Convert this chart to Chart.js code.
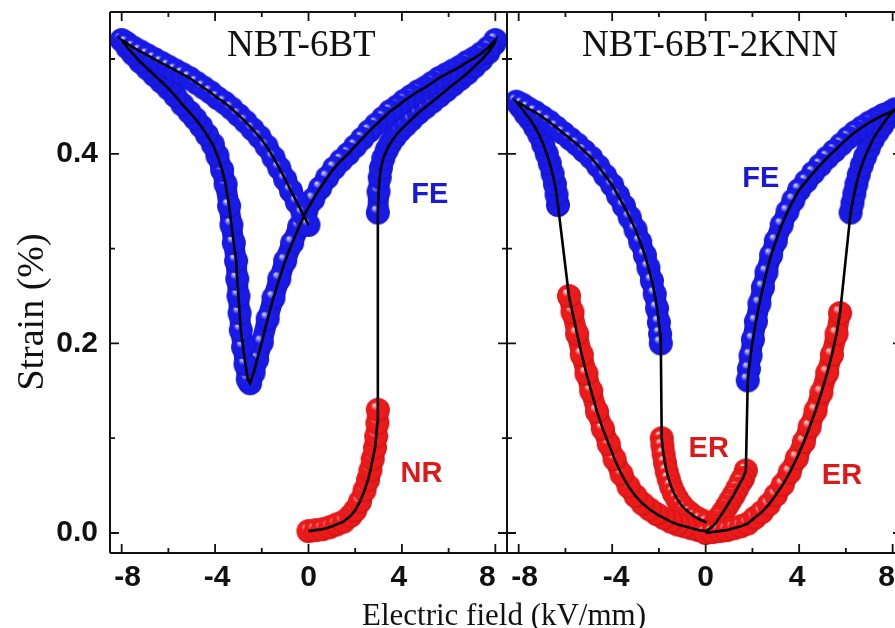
<!DOCTYPE html>
<html lang="en">
<head>
<meta charset="UTF-8">
<title>Strain vs electric field</title>
<script src="https://cdn.jsdelivr.net/npm/chart.js"></script>
<style>
    html, body { margin: 0; padding: 0; background: #fff; overflow: hidden; }
    #wrap { position: relative; width: 895px; height: 628px; overflow: hidden; background: #fff; }
    #left { position: absolute; left: 0; top: 0; }
    #right { position: absolute; left: 497px; top: 0; }
    #xtitle {
        position: absolute; left: 0; top: 599px; width: 1008px;
        text-align: center; color: #111;
        font: 31px "Liberation Serif", "Times New Roman", serif; line-height: 31px;
    }
</style>
</head>
<body>
<div id="wrap">
    <canvas id="left" width="509" height="628"></canvas>
    <canvas id="right" width="420" height="628"></canvas>
    <div id="xtitle">Electric field (kV/mm)</div>
</div>

<script>
// tick positions
const xMajor = [-8, -4, 0, 4, 8];
const xMinor = [-6, -2, 2, 6];
const yMajor = [0, 0.2, 0.4];
const yMinor = [0.1, 0.3, 0.5];

// NBT-6BT: first loading (non-ergodic relaxor) ...
const btNrE = [0.0, 0.3, 0.6, 0.9, 1.2, 1.5, 1.8, 2.0, 2.2, 2.4, 2.55, 2.65, 2.75, 2.85, 2.9, 2.95, 2.97];
const btNrS = [0.002, 0.003, 0.004, 0.006, 0.009, 0.012, 0.018, 0.024, 0.033, 0.045, 0.056, 0.066, 0.078, 0.090, 0.102, 0.116, 0.130];
// ... then the ferroelectric loop: up to +8, down through the minimum at -2.5, out to -8 and back to 0
const btFeE = [2.97, 3.0, 3.05, 3.1, 3.2, 3.35, 3.5, 3.7, 3.9, 4.15, 4.4, 4.7, 5.0, 5.3, 5.6, 5.9, 6.2, 6.5, 6.8, 7.1, 7.4, 7.7, 7.95,
    8.0, 7.7, 7.4, 7.1, 6.8, 6.5, 6.2, 5.9, 5.6, 5.3, 5.0, 4.7, 4.4, 4.1, 3.8, 3.5, 3.2, 2.9, 2.6, 2.3, 2.0, 1.7, 1.4, 1.1, 0.8, 0.5, 0.2,
    -0.1, -0.4, -0.7, -1.0, -1.25, -1.5, -1.75, -2.0, -2.2, -2.35, -2.5,
    -2.6, -2.7, -2.8, -2.9, -2.95, -3.0, -3.05, -3.1, -3.2, -3.3, -3.4, -3.55, -3.7, -3.9,
    -4.1, -4.35, -4.6, -4.85, -5.1, -5.4, -5.7, -6.0, -6.3, -6.6, -6.9, -7.2, -7.5, -7.75, -8.0,
    -7.8, -7.5, -7.2, -6.9, -6.6, -6.3, -6.0, -5.7, -5.4, -5.1, -4.8, -4.5, -4.2, -3.9, -3.6, -3.3, -3.0, -2.7, -2.4, -2.1,
    -1.8, -1.5, -1.25, -1.0, -0.75, -0.5, -0.25, 0.0];
const btFeS = [0.338, 0.36, 0.375, 0.385, 0.395, 0.404, 0.411, 0.418, 0.424, 0.430, 0.436, 0.443, 0.449, 0.455, 0.461, 0.467, 0.473, 0.479, 0.485, 0.492, 0.499, 0.507, 0.516,
    0.52, 0.512, 0.506, 0.501, 0.497, 0.492, 0.488, 0.484, 0.480, 0.475, 0.470, 0.466, 0.461, 0.456, 0.450, 0.445, 0.438, 0.431, 0.424, 0.416, 0.408, 0.400, 0.393, 0.385, 0.375, 0.364, 0.352,
    0.339, 0.323, 0.306, 0.287, 0.268, 0.248, 0.226, 0.201, 0.183, 0.169, 0.158,
    0.162, 0.178, 0.196, 0.214, 0.232, 0.250, 0.268, 0.287, 0.306, 0.325, 0.345, 0.368, 0.383, 0.398,
    0.410, 0.420, 0.429, 0.437, 0.444, 0.452, 0.461, 0.469, 0.476, 0.483, 0.490, 0.497, 0.505, 0.512, 0.52,
    0.517, 0.512, 0.508, 0.504, 0.500, 0.496, 0.492, 0.488, 0.484, 0.480, 0.475, 0.470, 0.465, 0.459, 0.454, 0.448, 0.441, 0.434, 0.426, 0.418,
    0.408, 0.396, 0.385, 0.373, 0.361, 0.349, 0.337, 0.325];

// NBT-6BT-2KNN: ergodic branch on rising field
const knnEr1E = [0.0, 0.3, 0.6, 0.9, 1.2, 1.5, 1.8, 2.1, 2.4, 2.7, 3.0, 3.3, 3.6, 3.9, 4.2, 4.45, 4.7, 4.95, 5.2, 5.4, 5.6, 5.75];
const knnEr1S = [0.000, 0.001, 0.002, 0.003, 0.005, 0.007, 0.010, 0.016, 0.022, 0.030, 0.040, 0.051, 0.064, 0.079, 0.096, 0.112, 0.129, 0.148, 0.169, 0.188, 0.210, 0.232];
// induced FE state, up to +8 and back down
const knnFe1E = [6.2, 6.28, 6.36, 6.45, 6.55, 6.68, 6.82, 6.98, 7.15, 7.35, 7.55, 7.75, 7.95, 8.1,
    7.9, 7.6, 7.3, 7.0, 6.7, 6.4, 6.1, 5.8, 5.5, 5.2, 4.9, 4.6, 4.3, 4.0, 3.75, 3.5, 3.25, 3.0, 2.8, 2.6,
    2.45, 2.3, 2.15, 2.02, 1.92, 1.85, 1.8];
const knnFe1S = [0.338, 0.348, 0.358, 0.368, 0.378, 0.388, 0.397, 0.406, 0.415, 0.423, 0.430, 0.437, 0.443, 0.447,
    0.444, 0.441, 0.437, 0.433, 0.428, 0.423, 0.417, 0.410, 0.403, 0.396, 0.388, 0.380, 0.371, 0.362, 0.351, 0.339, 0.325, 0.308, 0.293, 0.275,
    0.259, 0.242, 0.223, 0.204, 0.187, 0.173, 0.161];
// back to ER, through zero and out along the negative side
const knnEr2E = [1.72, 1.6, 1.5, 1.35, 1.2, 1.05, 0.9, 0.75, 0.6, 0.45, 0.3, 0.15,
    0.0, -0.3, -0.6, -0.9, -1.2, -1.5, -1.8, -2.1, -2.4, -2.7, -3.0, -3.3, -3.6, -3.9, -4.15, -4.4, -4.65, -4.9, -5.1, -5.3, -5.5, -5.7, -5.85];
const knnEr2S = [0.066, 0.058, 0.054, 0.047, 0.040, 0.034, 0.028, 0.022, 0.017, 0.011, 0.007, 0.004,
    0.002, 0.003, 0.005, 0.007, 0.009, 0.012, 0.016, 0.020, 0.025, 0.031, 0.039, 0.049, 0.062, 0.078, 0.094, 0.110, 0.128, 0.150, 0.168, 0.188, 0.210, 0.233, 0.250];
// FE on the negative side
const knnFe2E = [-6.32, -6.38, -6.45, -6.55, -6.67, -6.8, -6.95, -7.12, -7.3, -7.5, -7.7, -7.9, -8.1,
    -7.85, -7.6, -7.3, -7.0, -6.7, -6.4, -6.1, -5.8, -5.5, -5.2, -4.9, -4.6, -4.3, -4.0, -3.75, -3.5, -3.25, -3.0,
    -2.8, -2.6, -2.45, -2.3, -2.18, -2.08, -2.0, -1.95, -1.92];
const knnFe2S = [0.346, 0.357, 0.368, 0.379, 0.390, 0.400, 0.410, 0.420, 0.428, 0.436, 0.442, 0.449, 0.455,
    0.452, 0.448, 0.444, 0.439, 0.434, 0.428, 0.422, 0.416, 0.410, 0.403, 0.396, 0.387, 0.377, 0.367, 0.356, 0.345, 0.333, 0.320,
    0.307, 0.293, 0.280, 0.266, 0.252, 0.237, 0.222, 0.210, 0.200];
// final relaxation to zero field
const knnEr3E = [-1.88, -1.85, -1.8, -1.74, -1.67, -1.58, -1.48, -1.36, -1.22, -1.06, -0.88, -0.68, -0.46, -0.22, 0.05];
const knnEr3S = [0.100, 0.092, 0.083, 0.074, 0.065, 0.057, 0.049, 0.042, 0.036, 0.030, 0.025, 0.021, 0.017, 0.014, 0.011];

const BLUE = '#1a1ae8';
const RED = '#ec1a1a';
const sans = '"Liberation Sans", Arial, Helvetica, sans-serif';
const serif = '"Liberation Serif", "Times New Roman", serif';

// shaded ball used as marker
function sphere(light, mid, base, dark) {
    const c = document.createElement('canvas');
    c.width = c.height = 26;
    const g = c.getContext('2d');
    const grd = g.createRadialGradient(9, 8, 0.3, 13, 13, 12.5);
    grd.addColorStop(0, light);
    grd.addColorStop(0.12, mid);
    grd.addColorStop(0.32, base);
    grd.addColorStop(0.82, base);
    grd.addColorStop(1, dark);
    g.fillStyle = grd;
    g.beginPath();
    g.arc(13, 13, 12, 0, Math.PI * 2);
    g.fill();
    return c;
}
const blueBall = sphere('#e6e6ff', '#8888ff', BLUE, '#1212c4');
const redBall = sphere('#ffe6e6', '#ff8888', RED, '#c41010');

const pts = (E, S) => E.map((e, i) => ({ x: e, y: S[i] }));

function branch(E, S, color, ball) {
    return {
        data: pts(E, S),
        showLine: true,
        borderColor: color,
        borderWidth: 21,
        borderCapStyle: 'round',
        borderJoinStyle: 'round',
        pointStyle: ball,
        pointRadius: 12,
        pointBorderWidth: 0,
        order: 1,
        clip: 0
    };
}

// the measured curve, drawn over the markers in measuring order
function trace(parts) {
    const all = [];
    parts.forEach(([E, S]) => all.push(...pts(E, S)));
    return {
        data: all,
        showLine: true,
        borderColor: '#000',
        borderWidth: 2.6,
        pointRadius: 0,
        pointBorderWidth: 0,
        order: 0,
        clip: 0
    };
}

const framePlugin = {
    id: 'frame',
    afterDatasetsDraw(chart, args, o) {
        const { ctx, chartArea: a, scales: { x, y } } = chart;
        ctx.save();
        ctx.strokeStyle = '#111';
        ctx.lineWidth = 2;
        ctx.beginPath();
        ctx.moveTo(a.left, a.top); ctx.lineTo(a.right, a.top);
        ctx.moveTo(a.left, a.bottom); ctx.lineTo(a.right, a.bottom);
        ctx.moveTo(a.left, a.top); ctx.lineTo(a.left, a.bottom);
        ctx.moveTo(a.right, a.top); ctx.lineTo(a.right, a.bottom);
        ctx.stroke();

        // inward ticks on every side
        ctx.lineWidth = 1.8;
        ctx.beginPath();
        const xt = (vals, len) => vals.forEach(v => {
            const px = x.getPixelForValue(v);
            ctx.moveTo(px, a.bottom); ctx.lineTo(px, a.bottom - len);
            ctx.moveTo(px, a.top); ctx.lineTo(px, a.top + len);
        });
        const yt = (vals, len) => vals.forEach(v => {
            const py = y.getPixelForValue(v);
            ctx.moveTo(a.left, py); ctx.lineTo(a.left + len, py);
            ctx.moveTo(a.right, py); ctx.lineTo(a.right - len, py);
        });
        xt(xMajor, 9); xt(xMinor, 5);
        yt(yMajor, 9); yt(yMinor, 5);
        ctx.stroke();

        // x tick labels, the outer ones pulled in a little
        ctx.font = 'bold 30px ' + sans;
        ctx.fillStyle = '#111';
        ctx.textAlign = 'center';
        ctx.textBaseline = 'middle';
        xMajor.forEach((v, i) => {
            ctx.fillText(String(v), x.getPixelForValue(v) + o.labelNudge[i], a.bottom + 25);
        });

        (o.notes || []).forEach(n => {
            ctx.font = n.font;
            ctx.fillStyle = n.color || '#111';
            ctx.textAlign = n.align || 'center';
            ctx.textBaseline = n.baseline || 'middle';
            const px = n.data ? x.getPixelForValue(n.x) : n.x;
            const py = n.data ? y.getPixelForValue(n.y) : n.y;
            ctx.save();
            ctx.translate(px, py);
            if (n.rotate) ctx.rotate(n.rotate);
            ctx.fillText(n.text, 0, 0);
            ctx.restore();
        });
        ctx.restore();
    }
};

function xScale(min, max) {
    return {
        type: 'linear', min, max,
        grid: { display: false, drawTicks: false },
        border: { display: false },
        afterBuildTicks: s => { s.ticks = xMajor.map(v => ({ value: v })); },
        afterFit: s => { s.height = 75; s.paddingLeft = 0; s.paddingRight = 0; },
        ticks: { display: false }
    };
}

function yScale(show) {
    return {
        type: 'linear', min: -0.0211, max: 0.5496,
        display: show,
        grid: { display: false, drawTicks: false },
        border: { display: false },
        afterBuildTicks: s => { s.ticks = yMajor.map(v => ({ value: v })); },
        afterFit: s => { if (show) s.width = 110; s.paddingTop = 0; s.paddingBottom = 0; },
        ticks: {
            color: '#111', padding: 12,
            font: { family: sans, size: 30, weight: 'bold' },
            callback: v => v.toFixed(1)
        }
    };
}

const common = {
    responsive: false,
    animation: false,
    events: [],
    devicePixelRatio: 1
};

new Chart(document.getElementById('left'), {
    type: 'scatter',
    data: {
        datasets: [
            trace([[btNrE, btNrS], [btFeE, btFeS]]),
            branch(btNrE, btNrS, RED, redBall),
            branch(btFeE, btFeS, BLUE, blueBall)
        ]
    },
    options: {
        ...common,
        layout: { autoPadding: false, padding: { top: 12, right: 2, left: 0, bottom: 0 } },
        scales: { x: xScale(-8.5, 8.5), y: yScale(true) },
        plugins: {
            legend: { display: false },
            tooltip: { enabled: false },
            frame: {
                labelNudge: [6, 2, 0, -3, -8],
                notes: [
                    { text: 'NBT-6BT', x: 227, y: 56, align: 'left', baseline: 'alphabetic', font: '37px ' + serif },
                    { text: 'Strain (%)', x: 43, y: 312, rotate: -Math.PI / 2, baseline: 'alphabetic', font: '38px ' + serif },
                    { text: 'FE', data: true, x: 5.19, y: 0.357, color: '#1a1ad2', font: 'bold 29px ' + sans },
                    { text: 'NR', data: true, x: 4.84, y: 0.062, color: '#dc1a1a', font: 'bold 29px ' + sans }
                ]
            }
        }
    },
    plugins: [framePlugin]
});

new Chart(document.getElementById('right'), {
    type: 'scatter',
    data: {
        datasets: [
            trace([[knnEr1E, knnEr1S], [knnFe1E, knnFe1S], [knnEr2E, knnEr2S], [knnFe2E, knnFe2S], [knnEr3E, knnEr3S]]),
            branch(knnEr1E, knnEr1S, RED, redBall),
            branch(knnFe1E, knnFe1S, BLUE, blueBall),
            branch(knnEr2E, knnEr2S, RED, redBall),
            branch(knnFe2E, knnFe2S, BLUE, blueBall),
            branch(knnEr3E, knnEr3S, RED, redBall)
        ]
    },
    options: {
        ...common,
        layout: { autoPadding: false, padding: { top: 12, right: 15, left: 10, bottom: 0 } },
        scales: { x: xScale(-8.5, 8.4), y: yScale(false) },
        plugins: {
            legend: { display: false },
            tooltip: { enabled: false },
            frame: {
                labelNudge: [6, 4, 0, -2, -6],
                notes: [
                    { text: 'NBT-6BT-2KNN', x: 85, y: 56, align: 'left', baseline: 'alphabetic', font: '37px ' + serif },
                    { text: 'FE', data: true, x: 2.36, y: 0.373, color: '#1a1ad2', font: 'bold 29px ' + sans },
                    { text: 'ER', data: true, x: 0.13, y: 0.089, color: '#dc1a1a', font: 'bold 29px ' + sans },
                    { text: 'ER', data: true, x: 5.83, y: 0.060, color: '#dc1a1a', font: 'bold 29px ' + sans }
                ]
            }
        }
    },
    plugins: [framePlugin]
});
</script>
</body>
</html>
